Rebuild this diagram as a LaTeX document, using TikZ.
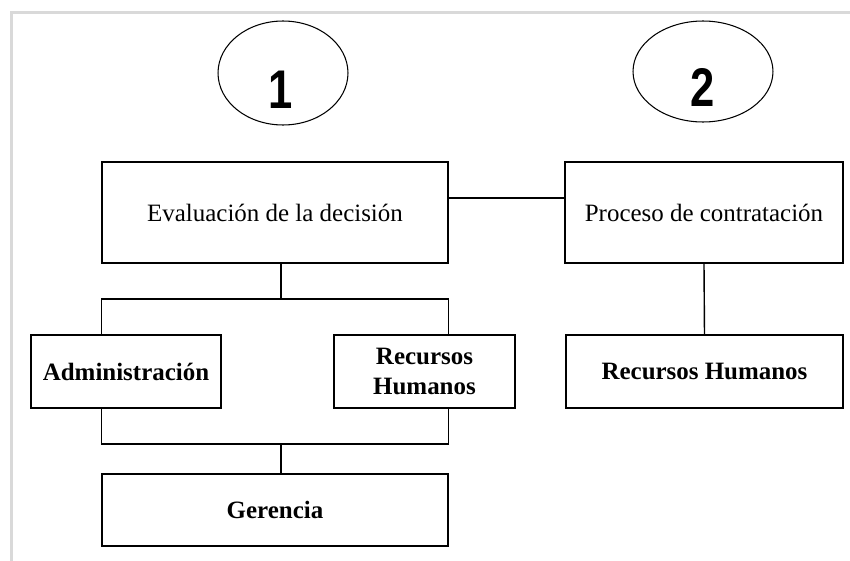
\documentclass[tikz,border=0pt]{standalone}
\usepackage{fontspec}
\setmainfont{Liberation Serif}
\newfontfamily\numfont{Liberation Sans}
\usepackage{graphicx}
\usetikzlibrary{positioning}
\usetikzlibrary{shapes.geometric}

\begin{document}
\begin{tikzpicture}[x=0.02cm, y=-0.02cm,
    every node/.style={inner sep=0pt, font=\fontsize{14.2}{17.5}\selectfont},
    caja/.style={draw, line width=0.8pt, rectangle, align=center},
    elipse/.style={draw, ellipse, line width=0.6pt},
    numero/.style={font=\numfont\bfseries\fontsize{31}{31}\selectfont}]
            \useasboundingbox (0,0) rectangle (850,561);
            % Marco
            \draw[black!15, line width=1.2pt] (11.5,561) -- (11.5,12.5) -- (850,12.5);

            % Nodos
            \node[elipse, minimum width=2.6cm, minimum height=2.08cm] (e1) at (283,73) {};
            \node[elipse, minimum width=2.8cm, minimum height=2.02cm] (e2) at (703,71.5) {};
            \node[numero] (n1) at (281,90) {\scalebox{0.8}[1]{1}};
            \node[numero] (n2) at (703,87) {\scalebox{0.8}[1]{2}};
            \node[caja, minimum width=6.92cm, minimum height=2.02cm] (eval) at (275,212.5) {Evaluación de la decisión};
            \node[caja, minimum width=5.56cm, minimum height=2.02cm] (proc) at (704,212.5) {Proceso de contratación};
            \node[caja, minimum width=3.8cm, minimum height=1.46cm, font=\fontsize{14.2}{17.5}\selectfont\bfseries] (adm) at (126,371.5) {Administración};
            \node[caja, minimum width=3.62cm, minimum height=1.46cm, font=\fontsize{14.2}{17.5}\selectfont\bfseries] (rhA) at (424.5,371.5) {Recursos\\Humanos};
            \node[caja, minimum width=5.54cm, minimum height=1.46cm, font=\fontsize{14.2}{17.5}\selectfont\bfseries] (rhB) at (704.5,371.5) {Recursos Humanos};
            \node[caja, minimum width=6.92cm, minimum height=1.44cm, font=\fontsize{14.2}{17.5}\selectfont\bfseries] (ger) at (275,510) {Gerencia};
            \coordinate (jtop) at (281,299);
            \coordinate (jbot) at (281,444);

            % Aristas
            \draw[line width=0.8pt] ([yshift=0.29cm]eval.east) -- ([yshift=0.29cm]proc.west);
            \draw[line width=0.8pt] (proc.south) -- (rhB.north);
            \draw[line width=0.8pt] (eval.south -| jtop) -- (jtop);
            \draw[line width=0.8pt] (adm.north -| ger.west) |- (jtop) -| (rhA.north -| ger.east);
            \draw[line width=0.8pt] (adm.south -| ger.west) |- (jbot) -| (rhA.south -| ger.east);
            \draw[line width=0.8pt] (jbot) -- (ger.north -| jbot);
\end{tikzpicture}
\end{document}
